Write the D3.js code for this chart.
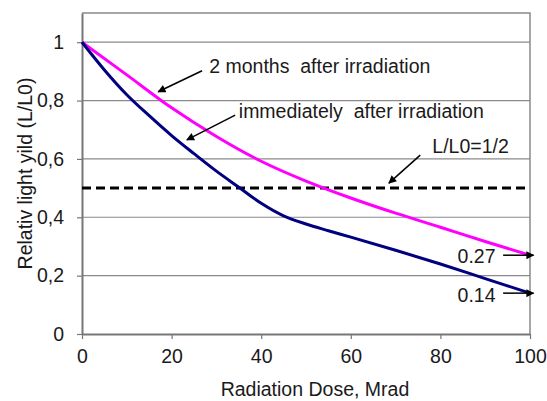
<!DOCTYPE html>
<html>
<head>
<meta charset="utf-8">
<script src="https://cdn.jsdelivr.net/npm/d3@7"></script>
<style>
  body { margin: 0; background: #fff; }
  svg text { font-family: "Liberation Sans", Arial, sans-serif; fill: #1a1a1a; }
</style>
</head>
<body>
<div class="chart"></div>
<script>
const width = 547, height = 401;
const margin = {left: 82, top: 13, right: 17, bottom: 67};
const fontSize = '19.5px';

// data
const doses = [0, 10, 20, 30, 40, 50, 60, 70, 80, 90, 100];
const afterTwoMonths = [1.0, 0.888, 0.775, 0.677, 0.592, 0.524, 0.466, 0.414, 0.366, 0.317, 0.27];
const blueDoses = [0, 5, 10, 15, 20, 25, 30, 35, 40, 45, 50, 55, 60, 70, 80, 90, 100];
const immediately = [1.0, 0.905, 0.82, 0.748, 0.68, 0.618, 0.558, 0.503, 0.448, 0.405, 0.377, 0.354, 0.332, 0.287, 0.24, 0.19, 0.14];
const halfLevel = 0.5;
const xTicks = [0, 20, 40, 60, 80, 100];
const yTicks = [0, 0.2, 0.4, 0.6, 0.8, 1];
const yTickLabels = ["0", "0,2", "0,4", "0,6", "0,8", "1"];

let svg = d3.select('.chart')
  .append('svg')
  .attr('width', width)
  .attr('height', height);

let x = d3.scaleLinear().domain([0, 100]).range([margin.left, width - margin.right]);
let y = d3.scaleLinear().domain([0, 1.1]).range([height - margin.bottom, margin.top]);

// arrow marker
svg.append('defs').append('marker')
  .attr('id', 'arr')
  .attr('viewBox', '0 0 10 10')
  .attr('refX', 9).attr('refY', 5)
  .attr('markerWidth', 11).attr('markerHeight', 8)
  .attr('markerUnits', 'userSpaceOnUse')
  .attr('orient', 'auto')
  .append('path')
  .attr('d', 'M0,0 L10,5 L0,10 z')
  .attr('fill', '#000');

// gridlines
svg.append('g')
  .selectAll('line')
  .data(yTicks.slice(1))
  .enter()
  .append('line')
  .attr('x1', x(0)).attr('x2', x(100))
  .attr('y1', d => y(d)).attr('y2', d => y(d))
  .attr('stroke', '#8a8a8a')
  .attr('stroke-width', 1.2);

// frame top + right
svg.append('path')
  .attr('d', `M${x(0)},${y(1.1)} H${x(100)} V${y(0)}`)
  .attr('fill', 'none')
  .attr('stroke', '#8a8a8a')
  .attr('stroke-width', 1.5);

// axes
let xAxis = d3.axisBottom(x).tickValues(xTicks).tickSize(5).tickPadding(10).tickSizeOuter(0);
let gx = svg.append('g')
  .attr('transform', `translate(0,${y(0)})`)
  .call(xAxis);
gx.selectAll('text').style('font-size', fontSize).attr('fill', '#1a1a1a');

let yAxis = d3.axisLeft(y).tickValues(yTicks).tickFormat((d, i) => yTickLabels[i]).tickSize(5).tickPadding(13).tickSizeOuter(0);
let gy = svg.append('g')
  .attr('transform', `translate(${x(0)},0)`)
  .call(yAxis);
gy.selectAll('text').style('font-size', fontSize).attr('fill', '#1a1a1a');

svg.selectAll('.domain').attr('stroke', '#777').attr('stroke-width', 2);
svg.selectAll('.tick line').attr('stroke', '#777').attr('stroke-width', 1.2);

// half level dashed line
svg.append('line')
  .attr('x1', x(0)).attr('x2', x(99.5))
  .attr('y1', y(halfLevel)).attr('y2', y(halfLevel))
  .attr('stroke', '#000')
  .attr('stroke-width', 3)
  .attr('stroke-dasharray', '9,5');

// curves
let line = d3.line().curve(d3.curveMonotoneX);
svg.append('path')
  .attr('d', line(doses.map((d, i) => [x(d), y(afterTwoMonths[i])])))
  .attr('fill', 'none')
  .attr('stroke', '#ff00ff')
  .attr('stroke-width', 3);

svg.append('path')
  .attr('d', line(blueDoses.map((d, i) => [x(d), y(immediately[i])])))
  .attr('fill', 'none')
  .attr('stroke', '#000080')
  .attr('stroke-width', 3);

// annotations (positions in data units)
function arrow(d1, v1, d2, v2) {
  svg.append('line')
    .attr('x1', x(d1)).attr('y1', y(v1)).attr('x2', x(d2)).attr('y2', y(v2))
    .attr('stroke', '#000').attr('stroke-width', 1.5)
    .attr('marker-end', 'url(#arr)');
}
function label(d, v, str, anchor) {
  svg.append('text')
    .attr('x', x(d)).attr('y', y(v))
    .attr('text-anchor', anchor || 'start')
    .style('font-size', fontSize)
    .attr('xml:space', 'preserve')
    .text(str);
}

label(28.4, 0.895, "2 months  after irradiation");
arrow(26.8, 0.902, 17.0, 0.83);

label(35.0, 0.74, "immediately  after irradiation");
arrow(34.2, 0.75, 23.4, 0.665);

label(78.2, 0.62, "L/L0=1/2");
arrow(75.5, 0.613, 68.5, 0.517);

label(92.3, 0.245, "0.27", 'end');
arrow(94.0, 0.27, 100.8, 0.27);

label(92.3, 0.11, "0.14", 'end');
arrow(94.0, 0.14, 100.8, 0.14);

// axis titles
svg.append('text')
  .attr('x', x(52)).attr('y', 396)
  .attr('text-anchor', 'middle')
  .style('font-size', fontSize)
  .text('Radiation Dose, Mrad');

svg.append('text')
  .attr('transform', `translate(32,${(y(0) + y(1.1)) / 2}) rotate(-90)`)
  .attr('text-anchor', 'middle')
  .style('font-size', fontSize)
  .text('Relativ light yild (L/L0)');
</script>
</body>
</html>
